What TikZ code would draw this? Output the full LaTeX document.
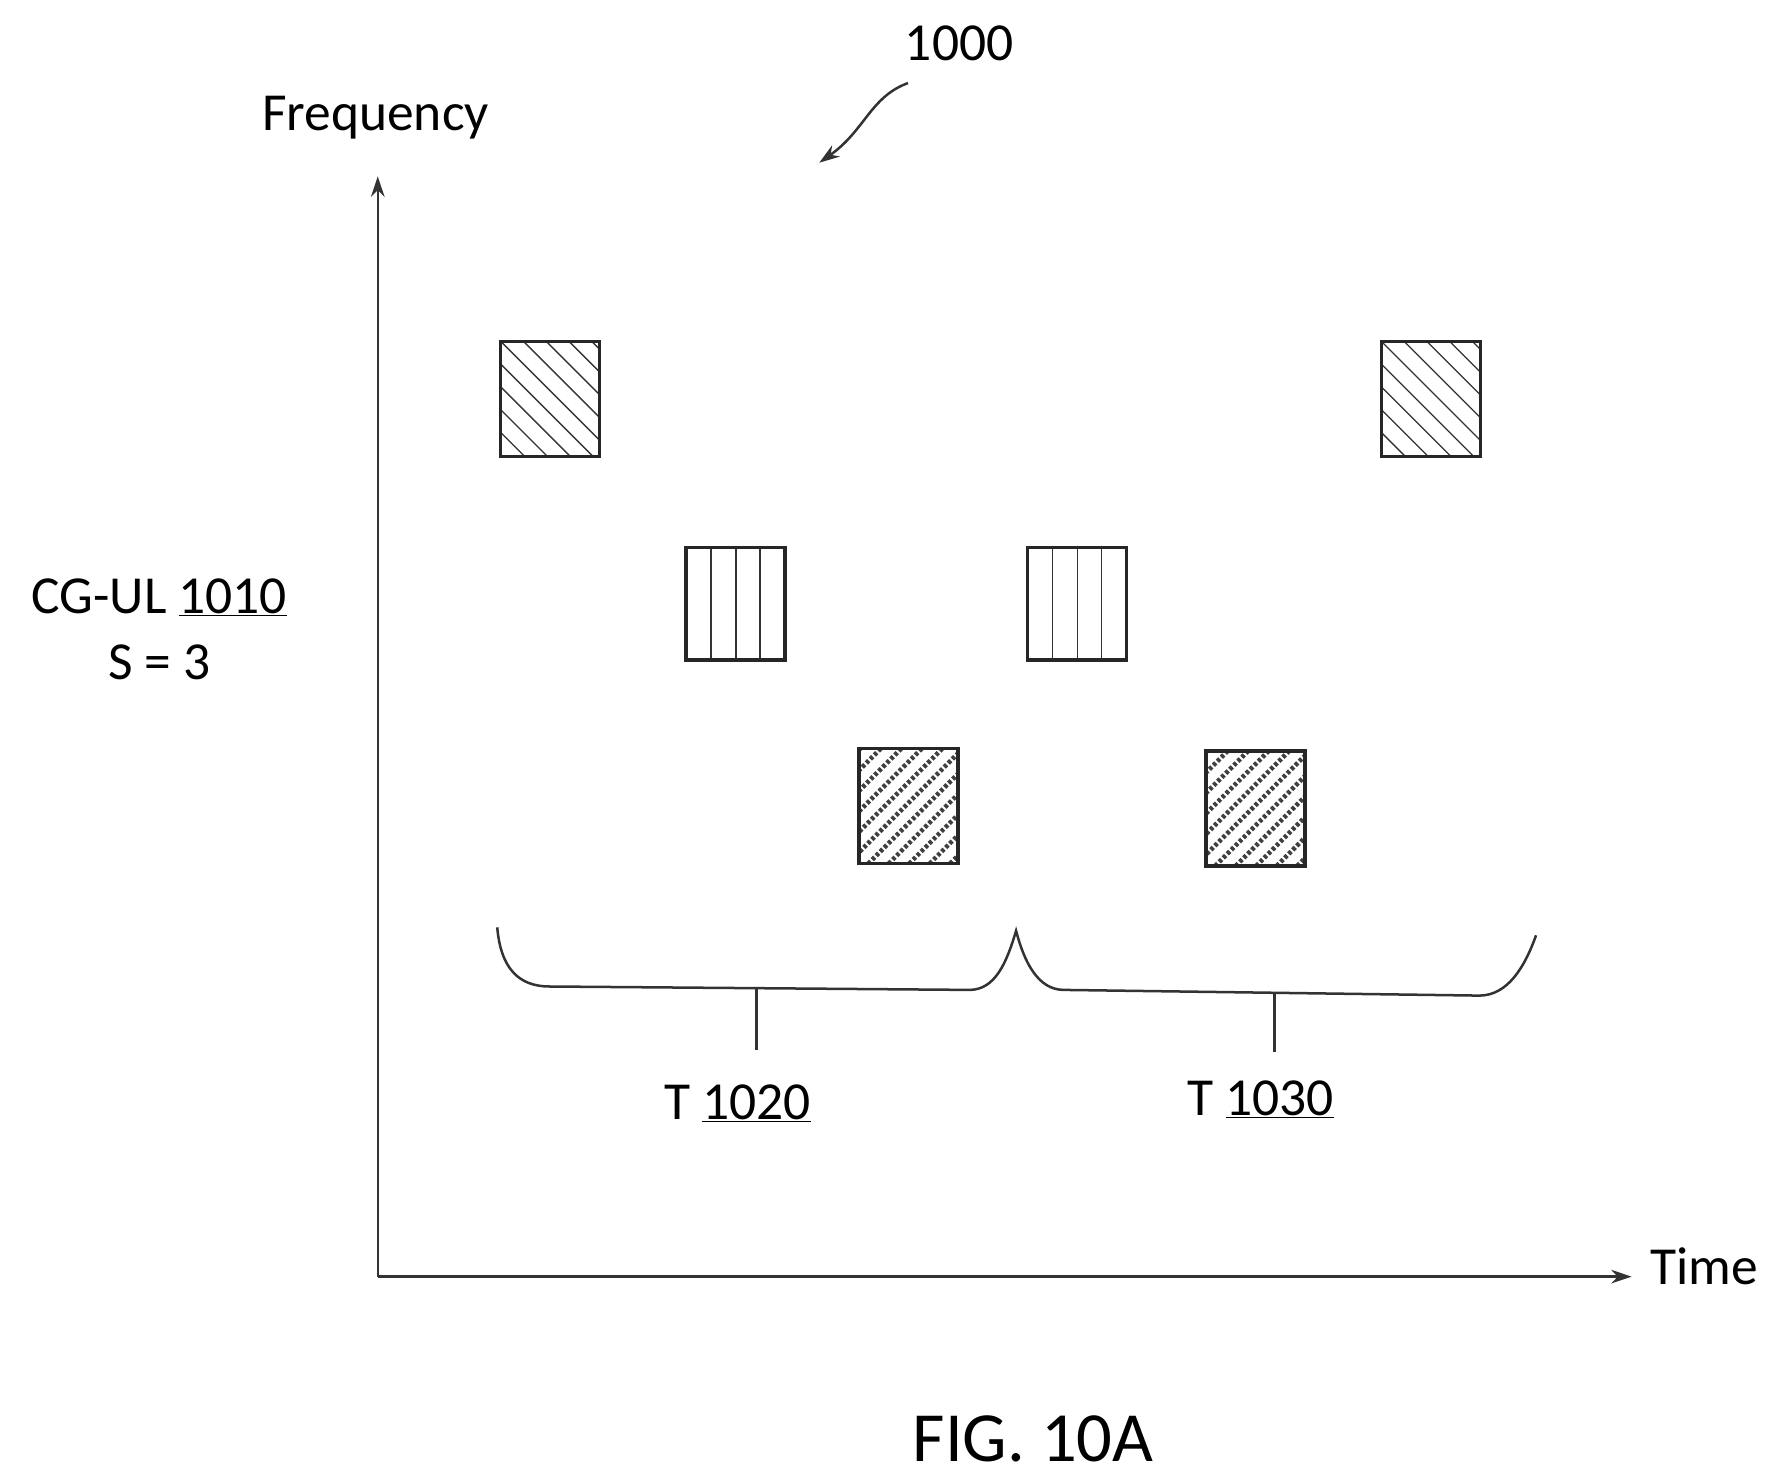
\documentclass[tikz,border=0pt]{standalone}
\usepackage{fontspec}
\setmainfont{Carlito}
\usetikzlibrary{arrows.meta}
\begin{document}
\begin{tikzpicture}[x=1pt,y=-1pt,
  ln/.style={draw=black!80,line width=2.2pt},
  lbl/.style={font=\fontsize{47}{54}\selectfont},
  box/.style={draw=black!85,line width=3pt}]
\useasboundingbox (0,0) rectangle (1560,1300);
% axes
\coordinate (O) at (332,1122);
\coordinate (Ytop) at (332,155);
\coordinate (Xend) at (1434,1122);
\draw[ln,-{Stealth[length=18pt,width=12pt]}] (O) -- (Ytop);
\draw[ln,-{Stealth[length=18pt,width=12pt]}] (O) -- (Xend);
\node[lbl] (freq) at (330,103) {Frequency};
\node[lbl] (time) at (1498,1113) {Time};
\node[lbl] (num) at (843,38) {1000};
\coordinate (ns) at (798,73);
\coordinate (ne) at (720,143);
\draw[ln,-{Stealth[length=18pt,width=12pt]}] (ns) .. controls (765,85) and (760,115) .. (ne);
\node[lbl,align=center] (cg) at (140,553) {CG-UL \underline{1010}\\[4pt] S = 3};
% diag boxes "\"
\foreach \x/\y [count=\i] in {440/300,1214/300}{
  \begin{scope}
  \clip (\x,\y) rectangle ++(87,101);
  \foreach \k in {-120,-100,...,100} \draw[black!80,line width=1.2pt] (\x+\k,\y) -- ++(101,101);
  \end{scope}
  \draw[box] (\x,\y) rectangle ++(87,101);
}
% vertical boxes
\foreach \x/\y in {603/481,903/481}{
  \foreach \k in {22,44,65} \draw[black!80,line width=1.5pt] (\x+\k,\y) -- ++(0,99);
  \draw[box] (\x,\y) rectangle ++(87,99);
}
% textured boxes "/"
\foreach \x/\y in {755/658,1060/660}{
  \begin{scope}
  \clip (\x,\y) rectangle ++(87,101);
  \foreach \k in {-100,-82,...,110} \draw[black!75,line width=4pt,dash pattern=on 3pt off 2pt] (\x+\k,\y+101) -- ++(101,-101);
  \end{scope}
  \draw[box] (\x,\y) rectangle ++(87,101);
}
% braces
\coordinate (b1s) at (437,815);
\coordinate (b1m) at (893,818);
\coordinate (b2e) at (1350,822);
\draw[ln] (b1s) .. controls (440,850) and (455,867) .. (483,867) -- (852,870) .. controls (875,870) and (885,845) .. (b1m)
  .. controls (900,845) and (912,870) .. (935,870) -- (1300,875) .. controls (1325,875) and (1340,850) .. (b2e);
\coordinate (s1a) at (665,869);
\coordinate (s1b) at (665,923);
\coordinate (s2a) at (1120,873);
\coordinate (s2b) at (1120,925);
\draw[ln] (s1a) -- (s1b);
\draw[ln] (s2a) -- (s2b);
\node[lbl] (t1) at (648,970) {T \underline{1020}};
\node[lbl] (t2) at (1108,966) {T \underline{1030}};
\node[font=\fontsize{62}{66}\selectfont] (fig) at (908,1265) {FIG. 10A};
\end{tikzpicture}
\end{document}
